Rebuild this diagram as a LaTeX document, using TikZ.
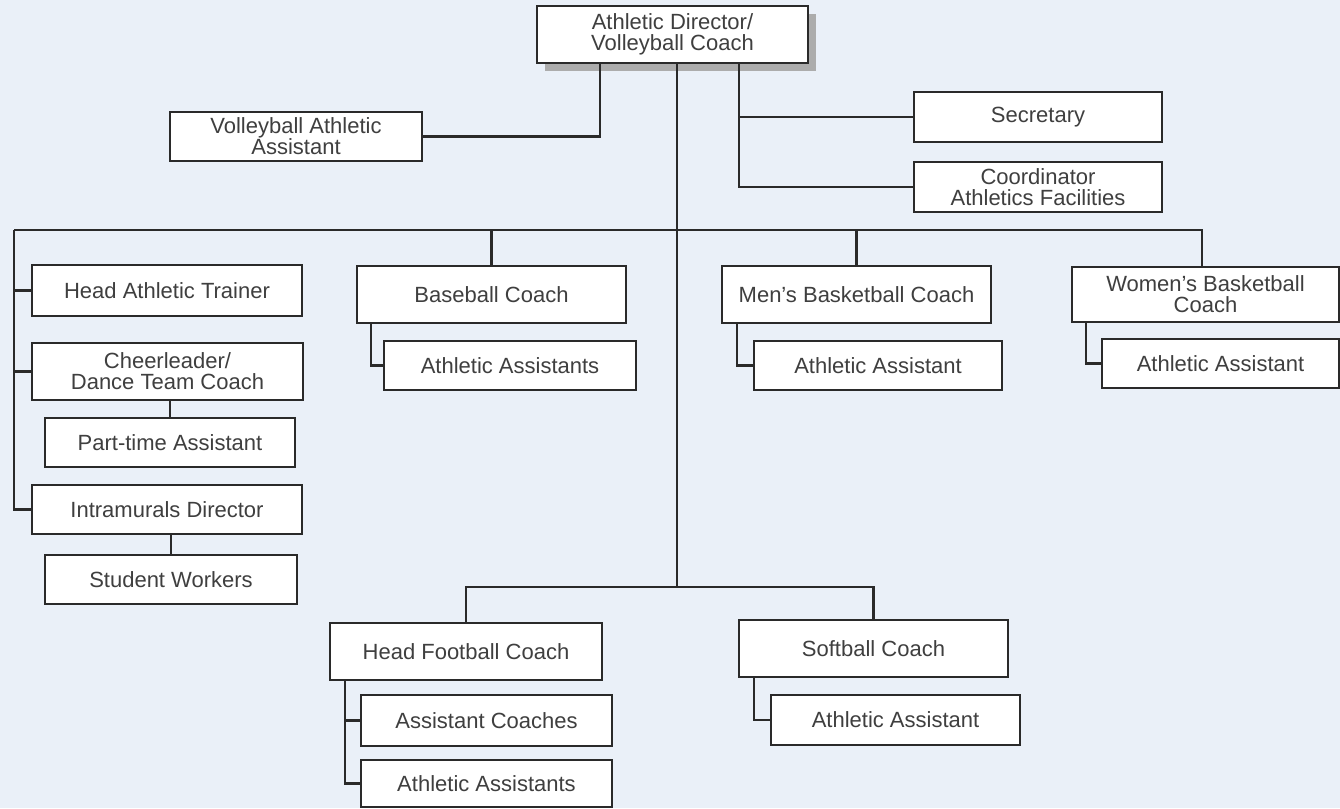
\documentclass[tikz,border=0pt]{standalone}
\usepackage{fontspec}
\setmainfont{Liberation Sans}
\usetikzlibrary{shadows}
\definecolor{pagebg}{RGB}{234,240,248}
\definecolor{ink}{RGB}{42,42,42}
\tikzset{
  box/.style 2 args={draw=ink, fill=white, line width=2.2pt, inner sep=0pt,
    minimum width=#1, minimum height=#2, align=center, text=ink!90,
    font=\fontsize{22}{21}\selectfont},
  link/.style={draw=ink, line width=2.2pt},
}
\begin{document}
\begin{tikzpicture}[x=1pt, y=-1pt]
            \useasboundingbox (0,0) rectangle (1340,808);
            \fill [pagebg] (0,0) rectangle (1340,808);
            % top of the chart
            \node [box={271pt}{57pt}, drop shadow={shadow xshift=8pt, shadow yshift=-8pt, fill=gray!65, opacity=1}] (director) at (672.5,34.5) {Athletic Director/\\Volleyball Coach};
            \node [box={252pt}{49pt}] (vbassist) at (296,136.5) {Volleyball Athletic\\Assistant};
            \node [box={248pt}{50pt}] (secretary) at (1038,117) {Secretary};
            \node [box={248pt}{50pt}] (facilities) at (1038,187) {Coordinator\\Athletics Facilities};
            % left column
            \node [box={270pt}{51pt}] (trainer) at (167,290.5) {Head Athletic Trainer};
            \node [box={271pt}{57pt}] (cheer) at (167.5,371.5) {Cheerleader/\\Dance Team Coach};
            \node [box={250pt}{49pt}] (parttime) at (170,442.5) {Part-time Assistant};
            \node [box={270pt}{49pt}] (intramural) at (167,509.5) {Intramurals Director};
            \node [box={252pt}{49pt}] (workers) at (171,579.5) {Student Workers};
            % coaches
            \node [box={269pt}{57pt}] (baseball) at (491.5,294.5) {Baseball Coach};
            \node [box={252pt}{49pt}] (bsassist) at (510,365.5) {Athletic Assistants};
            \node [box={269pt}{57pt}] (menbb) at (856.5,294.5) {Men’s Basketball Coach};
            \node [box={248pt}{49pt}] (mbassist) at (878,365.5) {Athletic Assistant};
            \node [box={267pt}{55pt}] (womenbb) at (1205.5,294.5) {Women’s Basketball\\Coach};
            \node [box={237pt}{49pt}] (wbassist) at (1220.5,363.5) {Athletic Assistant};
            \node [box={272pt}{57pt}] (football) at (466,651.5) {Head Football Coach};
            \node [box={251pt}{51pt}] (fbcoaches) at (486.5,720.5) {Assistant Coaches};
            \node [box={251pt}{47pt}] (fbassist) at (486.5,783.5) {Athletic Assistants};
            \node [box={269pt}{57pt}] (softball) at (873.5,648.5) {Softball Coach};
            \node [box={249pt}{50pt}] (sbassist) at (895.5,720) {Athletic Assistant};
            % junctions
            \coordinate (stemL) at (600,63);
            \coordinate (stemM) at (677,63);
            \coordinate (stemR) at (739,63);
            \coordinate (busL) at (14,230);
            \coordinate (busR) at (1202,230);
            \coordinate (lowhub) at (677,587);
            % connectors
            \draw [link] (stemL) |- (vbassist.east);
            \draw [link] (stemR) |- (facilities.west);
            \draw [link] (stemR |- secretary.west) -- (secretary.west);
            \draw [link] (stemM) -- (lowhub);
            \draw [link] (busL) -- (busR) -- (busR |- womenbb.north);
            \draw [link] (baseball.north |- busL) -- (baseball.north);
            \draw [link] (menbb.north |- busL) -- (menbb.north);
            \draw [link] (busL) |- (intramural.west);
            \draw [link] (busL |- trainer.west) -- (trainer.west);
            \draw [link] (busL |- cheer.west) -- (cheer.west);
            \draw [link] (parttime.north |- cheer.south) -- (parttime.north);
            \draw [link] (workers.north |- intramural.south) -- (workers.north);
            \draw [link] ([xshift=15pt]baseball.south west) |- (bsassist.west);
            \draw [link] ([xshift=16pt]menbb.south west) |- (mbassist.west);
            \draw [link] ([xshift=15pt]womenbb.south west) |- (wbassist.west);
            \draw [link] (football.north) |- (lowhub) -| (softball.north);
            \draw [link] ([xshift=16pt]football.south west) |- (fbassist.west);
            \draw [link] ([xshift=16pt]football.south west |- fbcoaches.west) -- (fbcoaches.west);
            \draw [link] ([xshift=16pt]softball.south west) |- (sbassist.west);
        \end{tikzpicture}
\end{document}
